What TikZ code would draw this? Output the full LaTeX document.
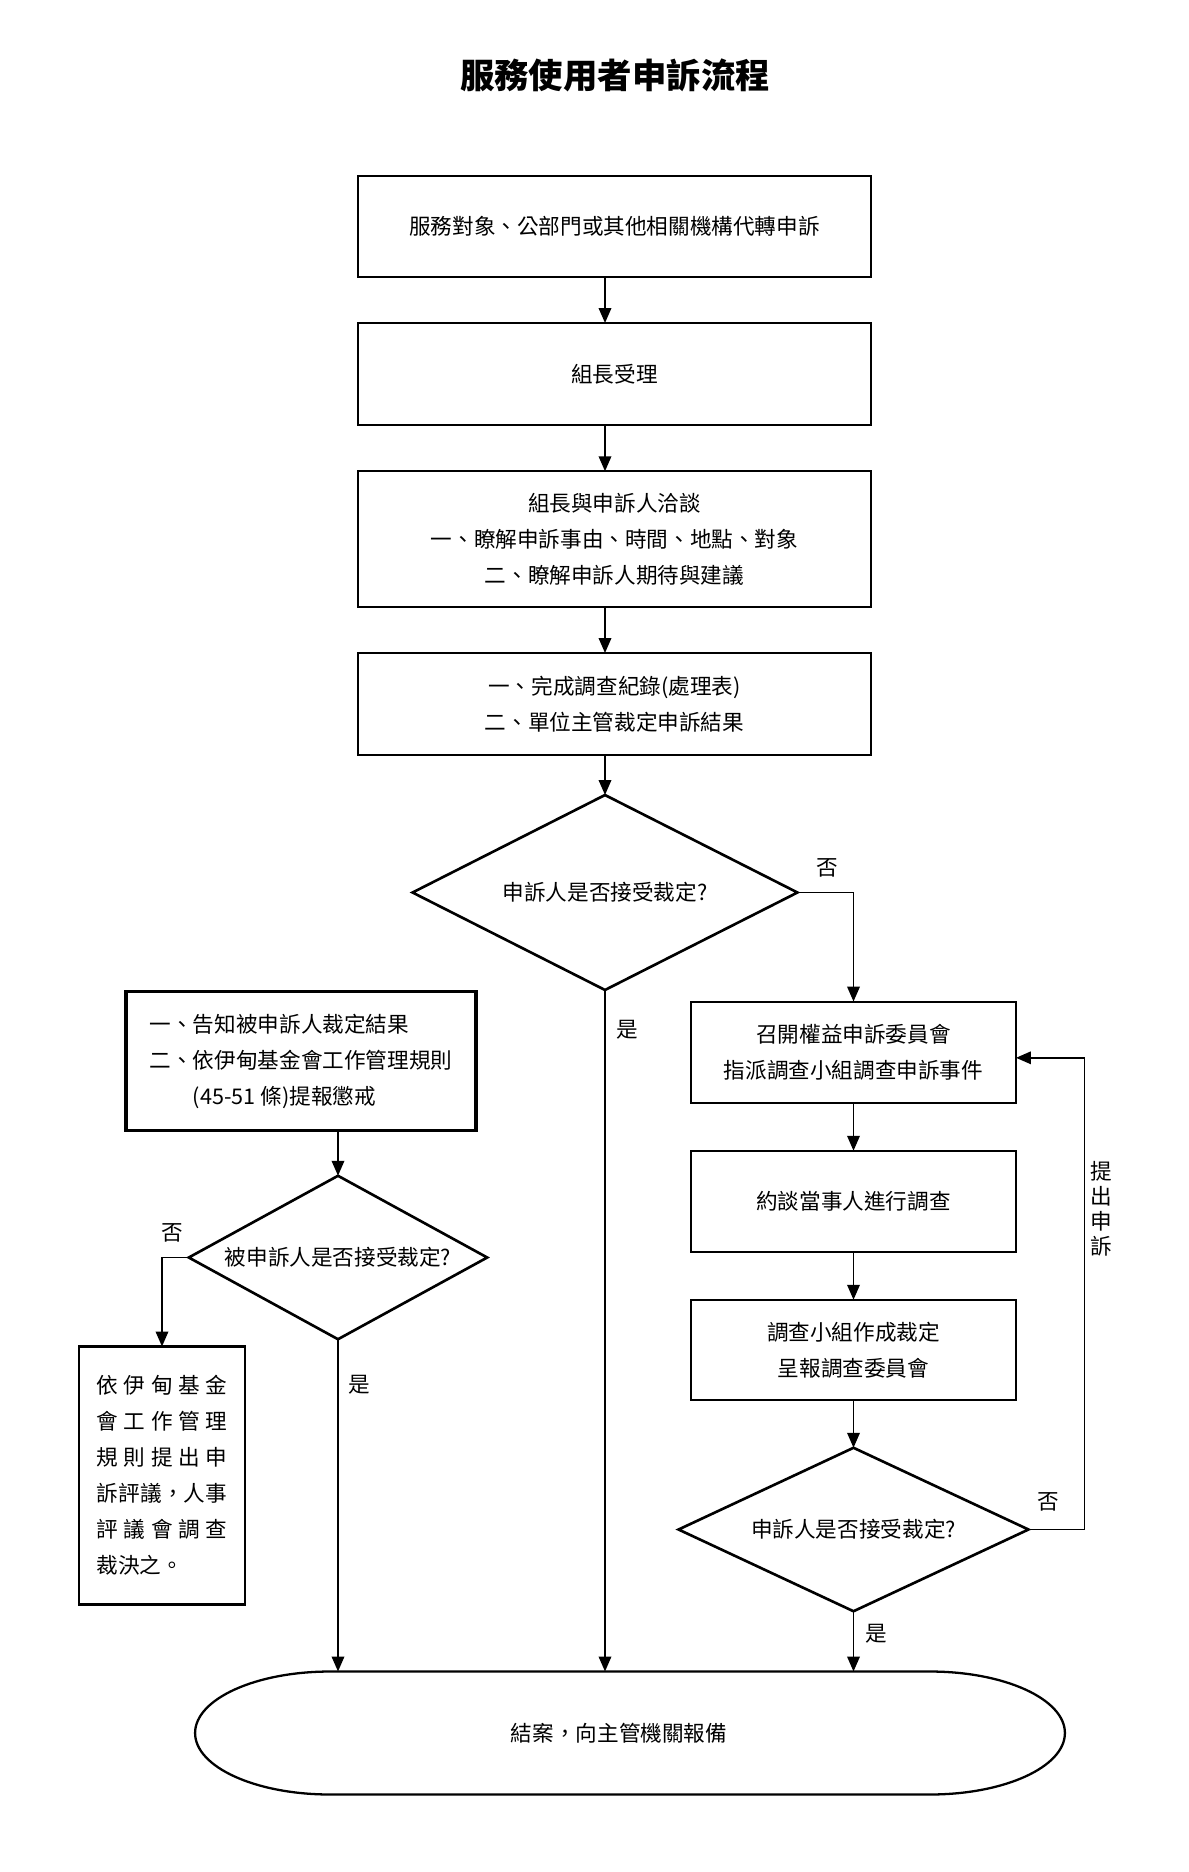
\documentclass[tikz,border=0pt]{standalone}
\usepackage{fontspec}
\setmainfont{Noto Sans CJK TC}
\usetikzlibrary{shapes.geometric,arrows.meta}

\begin{document}
\begin{tikzpicture}[x = 0.02cm, y = -0.02cm,
		every node/.style = {font = \fontsize{12.3}{20.5}\selectfont},
		box/.style = {draw, line width = 1.2pt, align = center, inner sep = 0pt, outer sep = 0pt},
		decision/.style = {draw, diamond, line width = 1.5pt, inner sep = 0pt, outer sep = 0pt},
		arr/.style = {line width = 1.1pt, -{Triangle[length = 0.3cm, width = 0.25cm]}}]
		\useasboundingbox (0, 0) rectangle (1189, 1872) ;
		\node [font = \fontsize{19.6}{24}\selectfont\bfseries] (title) at (615, 75) {服務使用者申訴流程} ;
		% main column
		\node [box, minimum width = 10.26cm, minimum height = 2.02cm] (b1) at (614.5, 226.5)
			{服務對象、公部門或其他相關機構代轉申訴} ;
		\node [box, minimum width = 10.26cm, minimum height = 2.04cm] (b2) at (614.5, 374) {組長受理} ;
		\node [box, minimum width = 10.26cm, minimum height = 2.71cm] (b3) at (614.5, 539)
			{組長與申訴人洽談\\一、瞭解申訴事由、時間、地點、對象\\二、瞭解申訴人期待與建議} ;
		\node [box, minimum width = 10.26cm, minimum height = 2.04cm] (b4) at (614.5, 704)
			{一、完成調查紀錄(處理表)\\二、單位主管裁定申訴結果} ;
		\node [decision, minimum width = 7.7cm, minimum height = 3.9cm, shape aspect = 1.97]
			(d1) at (605, 892.5) {申訴人是否接受裁定?} ;
		% right column
		\node [box, minimum width = 6.5cm, minimum height = 2.03cm] (rb1) at (853.5, 1052.3)
			{召開權益申訴委員會\\指派調查小組調查申訴事件} ;
		\node [box, minimum width = 6.5cm, minimum height = 2.03cm] (rb2) at (853.5, 1201.5) {約談當事人進行調查} ;
		\node [box, minimum width = 6.5cm, minimum height = 2.01cm] (rb3) at (853.5, 1350)
			{調查小組作成裁定\\呈報調查委員會} ;
		\node [decision, minimum width = 7cm, minimum height = 3.27cm, shape aspect = 2.14]
			(d3) at (853.5, 1529.5) {申訴人是否接受裁定?} ;
		% left column
		\node [box, line width = 1.9pt, align = left, minimum width = 7cm, minimum height = 2.79cm]
			(lb1) at (301, 1061)
			{一、告知被申訴人裁定結果\\二、依伊甸基金會工作管理規則\\\hspace*{2em}(45-51 條)提報懲戒} ;
		\node [decision, minimum width = 5.97cm, minimum height = 3.27cm, shape aspect = 1.83]
			(d2) at (338, 1257.5) {被申訴人是否接受裁定?} ;
		\node [box, align = left, minimum width = 3.32cm, minimum height = 5.16cm] (lb2) at (162, 1475.5)
			{\hbox to 2.62cm{依\hfill 伊\hfill 甸\hfill 基\hfill 金}\\
			\hbox to 2.62cm{會\hfill 工\hfill 作\hfill 管\hfill 理}\\
			\hbox to 2.62cm{規\hfill 則\hfill 提\hfill 出\hfill 申}\\
			\hbox to 2.62cm{訴\hfill 評\hfill 議\hfill ，\hfill 人\hfill 事}\\
			\hbox to 2.62cm{評\hfill 議\hfill 會\hfill 調\hfill 查}\\
			\hbox to 2.62cm{裁決之。\hfill}} ;
		% end
		\node [minimum width = 17.4cm, minimum height = 2.46cm, inner sep = 0pt, outer sep = 0pt]
			(term) at (619, 1733) {結案，向主管機關報備} ;
		\draw [line width = 1.3pt] ([xshift = 2.92cm]term.north west) -- ([xshift = -2.48cm]term.north east)
			arc [start angle = 90, end angle = -90, x radius = 2.7cm, y radius = 1.23cm]
			-- ([xshift = 2.92cm]term.south west)
			arc [start angle = -90, end angle = -270, x radius = 2.7cm, y radius = 1.23cm] -- cycle ;
		% connectors
		\draw [arr] (b1.south -| d1.north) -- (b2.north -| d1.north) ;
		\draw [arr] (b2.south -| d1.north) -- (b3.north -| d1.north) ;
		\draw [arr] (b3.south -| d1.north) -- (b4.north -| d1.north) ;
		\draw [arr] (b4.south -| d1.north) -- (d1.north) ;
		\draw [arr] (d1.east) -| (rb1.north) ;
		\draw [arr] (d1.south) -- (d1.south |- term.north) ;
		\draw [arr] (rb1.south) -- (rb2.north) ;
		\draw [arr] (rb2.south) -- (rb3.north) ;
		\draw [arr] (rb3.south) -- (d3.north) ;
		\draw [arr] (d3.south) -- (d3.south |- term.north) ;
		\draw [arr] (d3.east) -- ++(56, 0) |- ([yshift = -0.11cm]rb1.east) ;
		\draw [arr] (lb1.south -| d2.north) -- (d2.north) ;
		\draw [arr] (d2.west) -| (lb2.north) ;
		\draw [arr] (d2.south) -- (d2.south |- term.north) ;
		% labels
		\node (no1) at (827, 868) {否} ;
		\node (yes1) at (627, 1030) {是} ;
		\node (no2) at (172, 1233) {否} ;
		\node (yes2) at (359, 1385) {是} ;
		\node (no3) at (1048, 1502) {否} ;
		\node (yes3) at (876, 1634) {是} ;
		\node [align = center, font = \fontsize{12.3}{14.2}\selectfont] (appeal) at (1101, 1209) {提\\出\\申\\訴} ;
	\end{tikzpicture}
\end{document}
